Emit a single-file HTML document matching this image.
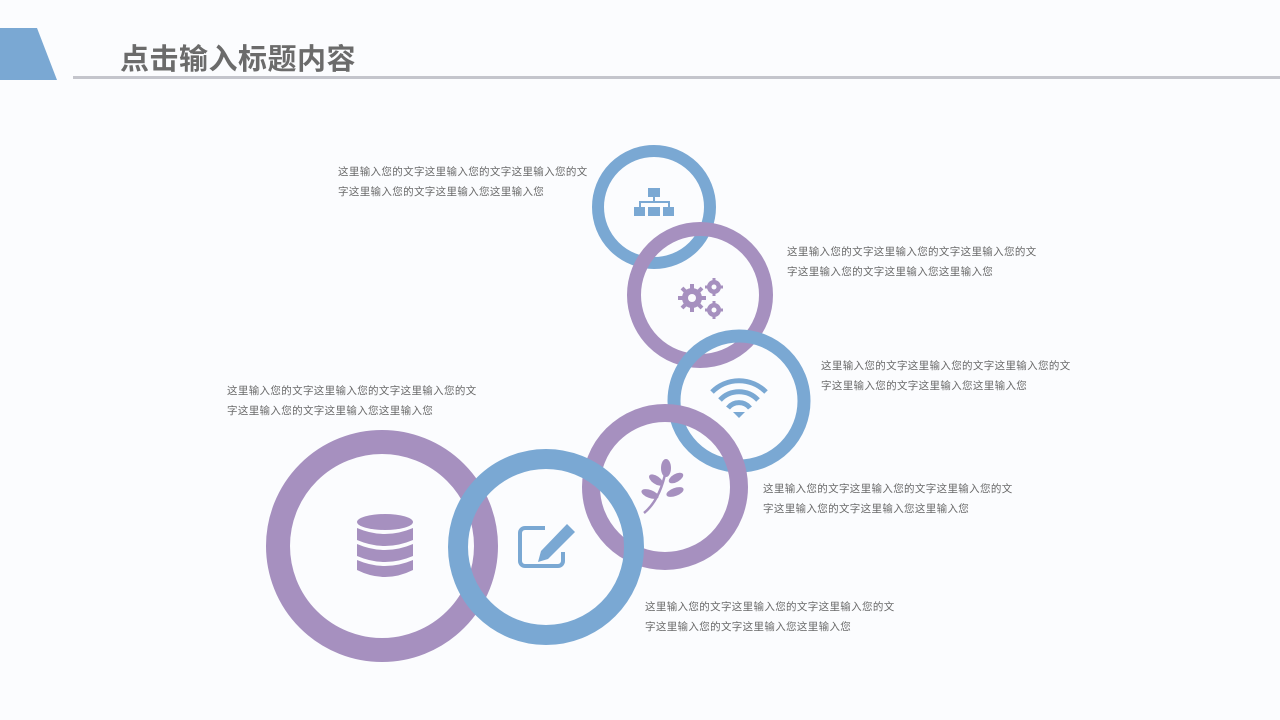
<!DOCTYPE html>
<html><head><meta charset="utf-8"><style>
body{margin:0;width:1280px;height:720px;background:#fbfcfe;position:relative;overflow:hidden;font-family:"Liberation Sans","Noto Sans CJK SC",sans-serif}
.t{position:absolute;font-size:10.5px;color:#6a6a6a;line-height:20px;white-space:nowrap;letter-spacing:0.35px}
h1{position:absolute;left:120px;top:36px;margin:0;font-size:29px;font-weight:bold;color:#6b6b6b;letter-spacing:0.5px}
</style></head><body>
<svg width="1280" height="720" style="position:absolute;left:0;top:0">
<polygon points="0,28 37,28 57,80 0,80" fill="#7aa8d3"/>
<rect x="73" y="76" width="1207" height="3" fill="#c4c5cc"/>
<g fill="none">
<circle cx="654" cy="207" r="56" stroke="#7aa8d3" stroke-width="12"/>
<circle cx="700" cy="295" r="66" stroke="#a690bf" stroke-width="14"/>
<circle cx="739" cy="401" r="65" stroke="#7aa8d3" stroke-width="13"/>
<circle cx="665" cy="487" r="74" stroke="#a690bf" stroke-width="18"/>
<circle cx="382" cy="546" r="104" stroke="#a690bf" stroke-width="24"/>
<circle cx="546" cy="547" r="88" stroke="#7aa8d3" stroke-width="20"/>
</g>
<g fill="#7aa8d3">
<rect x="648" y="188" width="12" height="9"/>
<rect x="653" y="197" width="2" height="5"/><rect x="639" y="201" width="31" height="2"/>
<rect x="639" y="201" width="2" height="6"/><rect x="668" y="201" width="2" height="6"/>
<rect x="634" y="207" width="11" height="9"/><rect x="648" y="207" width="12" height="9"/><rect x="663" y="207" width="11" height="9"/>
</g>
<g fill="#a690bf">
<circle cx="692" cy="298" r="10"/><circle cx="714" cy="287" r="7"/><circle cx="714" cy="310" r="7"/>
<g stroke="#a690bf" stroke-width="4"><line x1="692" y1="284" x2="692" y2="312"/><line x1="678" y1="298" x2="706" y2="298"/><line x1="682" y1="288" x2="702" y2="308"/><line x1="682" y1="308" x2="702" y2="288"/></g>
<g stroke="#a690bf" stroke-width="3"><line x1="714" y1="278" x2="714" y2="296"/><line x1="705" y1="287" x2="723" y2="287"/><line x1="714" y1="301" x2="714" y2="319"/><line x1="705" y1="310" x2="723" y2="310"/></g>
</g>
<circle cx="692" cy="298" r="4" fill="#fbfcfe"/><circle cx="714" cy="287" r="2.5" fill="#fbfcfe"/><circle cx="714" cy="310" r="2.5" fill="#fbfcfe"/>
<g fill="none" stroke="#7aa8d3" stroke-width="5">
<path d="M712 392 A38 38 0 0 1 766 392"/><path d="M720 400 A26 26 0 0 1 758 400"/><path d="M728 408 A14 14 0 0 1 750 408"/>
</g>
<polygon points="733,412 745,412 739,418" fill="#7aa8d3"/>
<g fill="#a690bf">
<path d="M644 513 Q660 500 666 470" stroke="#a690bf" stroke-width="2.5" fill="none"/>
<ellipse cx="666" cy="468" rx="5" ry="9"/>
<ellipse cx="656" cy="480" rx="8" ry="4" transform="rotate(35 656 480)"/>
<ellipse cx="676" cy="478" rx="8" ry="4" transform="rotate(-30 676 478)"/>
<ellipse cx="650" cy="494" rx="9" ry="4" transform="rotate(20 650 494)"/>
<ellipse cx="675" cy="492" rx="9" ry="4" transform="rotate(-20 675 492)"/>
</g>
<path d="M545 528 H525 a5 5 0 0 0 -5 5 V561 a5 5 0 0 0 5 5 H558 a5 5 0 0 0 5 -5 V552" fill="none" stroke="#7aa8d3" stroke-width="4"/>
<polygon points="567,524 575,532 548,559 538,562 541,551" fill="#7aa8d3"/>
<g fill="#a690bf">
<ellipse cx="385" cy="522" rx="28" ry="8"/>
<path d="M357 528 Q385 540 413 528 V540 Q385 552 357 540Z"/>
<path d="M357 544 Q385 556 413 544 V556 Q385 568 357 556Z"/>
<path d="M357 560 Q385 572 413 560 V570 Q385 584 357 570Z"/>
</g>
</svg>
<h1>点击输入标题内容</h1>
<div class="t" style="left:338px;top:162px">这里输入您的文字这里输入您的文字这里输入您的文<br>字这里输入您的文字这里输入您这里输入您</div>
<div class="t" style="left:787px;top:242px">这里输入您的文字这里输入您的文字这里输入您的文<br>字这里输入您的文字这里输入您这里输入您</div>
<div class="t" style="left:821px;top:356px">这里输入您的文字这里输入您的文字这里输入您的文<br>字这里输入您的文字这里输入您这里输入您</div>
<div class="t" style="left:227px;top:381px">这里输入您的文字这里输入您的文字这里输入您的文<br>字这里输入您的文字这里输入您这里输入您</div>
<div class="t" style="left:763px;top:479px">这里输入您的文字这里输入您的文字这里输入您的文<br>字这里输入您的文字这里输入您这里输入您</div>
<div class="t" style="left:645px;top:597px">这里输入您的文字这里输入您的文字这里输入您的文<br>字这里输入您的文字这里输入您这里输入您</div>
</body></html>
